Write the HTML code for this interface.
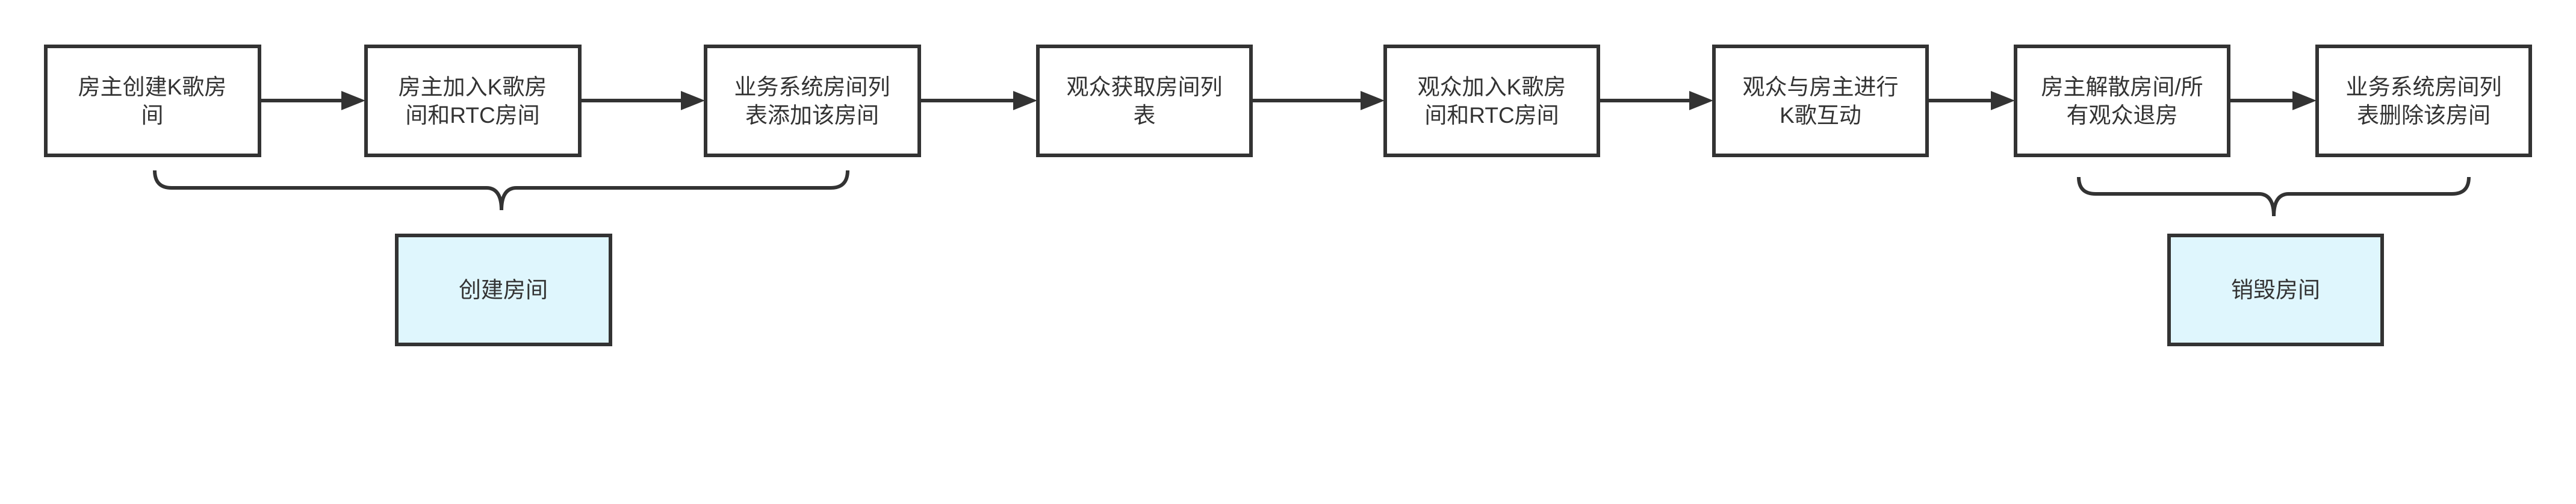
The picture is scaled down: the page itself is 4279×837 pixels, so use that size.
<!DOCTYPE html>
<html><head><meta charset="utf-8"><style>
html,body{margin:0;padding:0;background:#fff;}
svg{display:block}
text{font-family:"Liberation Sans","Noto Sans CJK SC",sans-serif;font-size:37px;fill:#333;text-anchor:middle}
</style></head><body>
<svg width="4279" height="837" viewBox="0 0 4279 837" xmlns="http://www.w3.org/2000/svg">
<defs><marker id="a" markerWidth="10" markerHeight="10" refX="9" refY="5" orient="auto" markerUnits="userSpaceOnUse" viewBox="0 0 10 10"><path d="M0,0 L10,5 L0,10 z" fill="#333"/></marker></defs>
<g fill="#fff" stroke="#333" stroke-width="6">
<rect x="76" y="77" width="355" height="181"/>
<rect x="608" y="77" width="355" height="181"/>
<rect x="1172" y="77" width="355" height="181"/>
<rect x="1724" y="77" width="354" height="181"/>
<rect x="2301" y="77" width="354" height="181"/>
<rect x="2847" y="77" width="354" height="181"/>
<rect x="3348" y="77" width="354" height="181"/>
<rect x="3849" y="77" width="354" height="181"/>
<rect x="659" y="391" width="355" height="181" fill="#dff6fd"/>
<rect x="3603" y="391" width="354" height="181" fill="#dff6fd"/>
</g>
<g stroke="#333" stroke-width="6" fill="none">
<line x1="431" y1="167" x2="570" y2="167"/><path d="M567,151 L607,167 L567,183 z" fill="#333" stroke="none"/>
<line x1="963" y1="167" x2="1134" y2="167"/><path d="M1131,151 L1171,167 L1131,183 z" fill="#333" stroke="none"/>
<line x1="1527" y1="167" x2="1686" y2="167"/><path d="M1683,151 L1723,167 L1683,183 z" fill="#333" stroke="none"/>
<line x1="2078" y1="167" x2="2263" y2="167"/><path d="M2260,151 L2300,167 L2260,183 z" fill="#333" stroke="none"/>
<line x1="2655" y1="167" x2="2809" y2="167"/><path d="M2806,151 L2846,167 L2806,183 z" fill="#333" stroke="none"/>
<line x1="3201" y1="167" x2="3310" y2="167"/><path d="M3307,151 L3347,167 L3307,183 z" fill="#333" stroke="none"/>
<line x1="3702" y1="167" x2="3811" y2="167"/><path d="M3808,151 L3848,167 L3808,183 z" fill="#333" stroke="none"/>
<path d="M257,283 Q257,312 285,312 L808,312 Q833,312 833,349 Q833,312 858,312 L1380,312 Q1408,312 1408,283"/>
<path d="M3453,294 Q3453,322 3481,322 L3752,322 Q3777,322 3777,359 Q3777,322 3802,322 L4073,322 Q4101,322 4101,294"/>
</g>
<text x="253" y="157">房主创建K歌房</text><text x="253" y="204">间</text>
<text x="785" y="157">房主加入K歌房</text><text x="785" y="204">间和RTC房间</text>
<text x="1349" y="157">业务系统房间列</text><text x="1349" y="204">表添加该房间</text>
<text x="1901" y="157">观众获取房间列</text><text x="1901" y="204">表</text>
<text x="2478" y="157">观众加入K歌房</text><text x="2478" y="204">间和RTC房间</text>
<text x="3024" y="157">观众与房主进行</text><text x="3024" y="204">K歌互动</text>
<text x="3525" y="157">房主解散房间/所</text><text x="3525" y="204">有观众退房</text>
<text x="4026" y="157">业务系统房间列</text><text x="4026" y="204">表删除该房间</text>
<text x="836" y="494">创建房间</text>
<text x="3780" y="494">销毁房间</text>
</svg>
</body></html>
